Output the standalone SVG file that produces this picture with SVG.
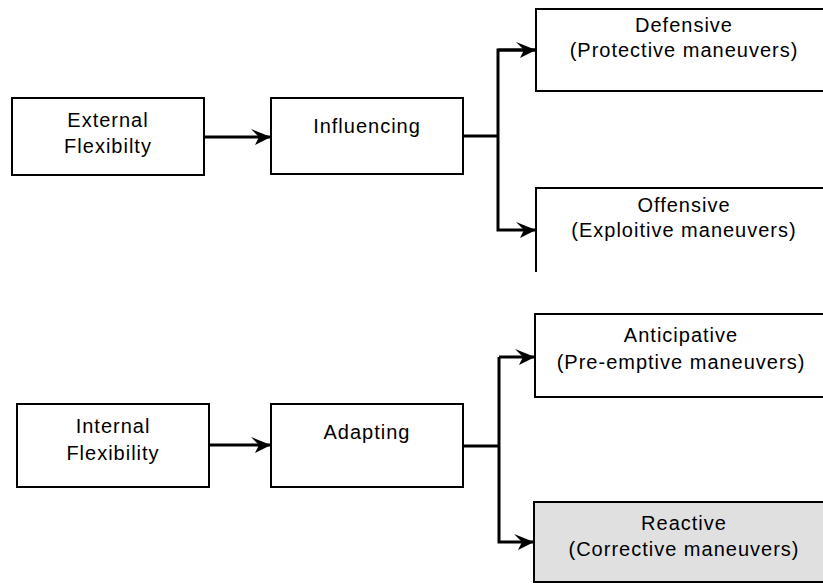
<svg xmlns="http://www.w3.org/2000/svg" width="823" height="585" viewBox="0 0 823 585">
<defs>
<style>
.box{fill:#fff;stroke:#000;stroke-width:2}
.gray{fill:#e0e0e0}
.t{font-family:"Liberation Sans",Arial,sans-serif;font-size:20px;letter-spacing:1px;text-anchor:middle;fill:#000}
.c{fill:none;stroke:#000;stroke-width:3}
</style>
<marker id="ah" viewBox="0 0 20 18" refX="19" refY="9" markerWidth="20" markerHeight="18" markerUnits="userSpaceOnUse" orient="auto">
<path d="M0,1 L20,9 L4,17 L8,9 Z" fill="#000"/>
</marker>
</defs>
<rect width="823" height="585" fill="#fff"/>
<g id="connectors">
<path class="c" d="M204,137 H270" marker-end="url(#ah)"/>
<path class="c" d="M463,136 H498"/>
<path class="c" d="M536,50 H498 V230 H535" marker-end="url(#ah)"/>
<path class="c" d="M498,50 H535" marker-end="url(#ah)"/>
<path class="c" d="M209,445 H270" marker-end="url(#ah)"/>
<path class="c" d="M463,446 H499"/>
<path class="c" d="M499,357 V542 H533" marker-end="url(#ah)"/>
<path class="c" d="M499,357 H534" marker-end="url(#ah)"/>
</g>
<g id="external">
<rect class="box" x="12" y="98" width="192" height="77"/>
<text class="t" x="108" y="127">External</text>
<text class="t" x="108" y="153">Flexibilty</text>
</g>
<g id="influencing">
<rect class="box" x="271" y="98" width="192" height="76"/>
<text class="t" x="367" y="133">Influencing</text>
</g>
<g id="defensive">
<rect class="box" x="536" y="9" width="300" height="82"/>
<text class="t" x="684" y="32">Defensive</text>
<text class="t" x="684" y="57">(Protective maneuvers)</text>
</g>
<g id="offensive">
<path d="M536,272 V188 H830" fill="none" stroke="#000" stroke-width="2"/>
<text class="t" x="684" y="212">Offensive</text>
<text class="t" x="684" y="237">(Exploitive maneuvers)</text>
</g>
<g id="internal">
<rect class="box" x="17" y="404" width="192" height="83"/>
<text class="t" x="113" y="433">Internal</text>
<text class="t" x="113" y="460">Flexibility</text>
</g>
<g id="adapting">
<rect class="box" x="271" y="404" width="192" height="83"/>
<text class="t" x="367" y="439">Adapting</text>
</g>
<g id="anticipative">
<rect class="box" x="535" y="314" width="300" height="83"/>
<text class="t" x="681" y="342">Anticipative</text>
<text class="t" x="681" y="369">(Pre-emptive maneuvers)</text>
</g>
<g id="reactive">
<rect class="box gray" x="534" y="502" width="300" height="80"/>
<text class="t" x="684" y="530">Reactive</text>
<text class="t" x="684" y="556">(Corrective maneuvers)</text>
</g>
</svg>
